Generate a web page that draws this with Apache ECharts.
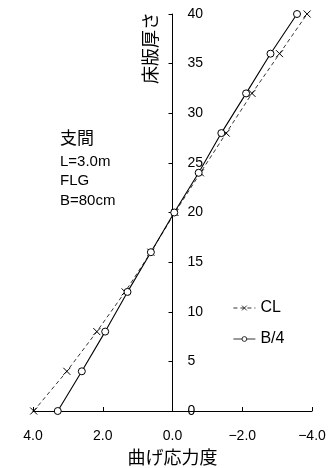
<!DOCTYPE html>
<html>
<head>
<meta charset="utf-8">
<script src="https://cdn.jsdelivr.net/npm/echarts@6/dist/echarts.min.js"></script>
<style>html,body{margin:0;padding:0;background:#fff;}#c{width:336px;height:468px;}</style>
</head>
<body>
<div id="c"></div>
<script>
var depths = [0, 4, 8, 12, 16, 20, 24, 28, 32, 36, 40];
var stressCL = [3.98, 3.03, 2.17, 1.36, 0.62, -0.07, -0.80, -1.54, -2.28, -3.07, -3.86];
var stressB4 = [3.29, 2.60, 1.93, 1.29, 0.62, -0.05, -0.75, -1.40, -2.11, -2.81, -3.57];
var seriesNames = ['CL', 'B/4'];
var xTicks = [-4, -2, 0, 2, 4];
var yTicks = [0, 5, 10, 15, 20, 25, 30, 35, 40];
var noteLines = ['支間', 'L=3.0m', 'FLG', 'B=80cm'];
var xName = '曲げ応力度';
var yName = '床版厚さ';

var FONT = "'Liberation Sans', 'Noto Sans CJK JP', sans-serif";
var JFONT = "'Noto Sans CJK JP', 'Liberation Sans', sans-serif";

var GRID_LEFT = 33, GRID_RIGHT = 24;
var GRID_W = 336 - GRID_LEFT - GRID_RIGHT;

function pairs(xs) { return xs.map(function (v, i) { return [v, depths[i]]; }); }
function fmtX(v) { return (v < 0 ? '\u2212' : '') + Math.abs(v).toFixed(1); }

var chart = echarts.init(document.getElementById('c'), null, {renderer: 'canvas'});
chart.setOption({
  animation: false,
  backgroundColor: '#fff',
  grid: {left: GRID_LEFT, right: GRID_RIGHT, top: 14, bottom: 57, outerBoundsMode: 'none'},
  xAxis: {
    type: 'value', inverse: true,
    min: xTicks[0], max: xTicks[xTicks.length - 1], interval: xTicks[1] - xTicks[0],
    splitLine: {show: false},
    axisLine: {onZero: false, lineStyle: {color: '#000', width: 1}},
    axisTick: {inside: true, length: 4, lineStyle: {color: '#000'}},
    axisLabel: {color: '#000', fontSize: 14, fontFamily: FONT, margin: 18, formatter: fmtX},
    name: xName, nameLocation: 'middle', nameGap: 35,
    nameTextStyle: {color: '#000', fontSize: 18, fontFamily: JFONT}
  },
  yAxis: {
    type: 'value', position: 'left',
    offset: -(GRID_W * xTicks[xTicks.length - 1] / (xTicks[xTicks.length - 1] - xTicks[0])),
    min: yTicks[0], max: yTicks[yTicks.length - 1], interval: yTicks[1] - yTicks[0],
    splitLine: {show: false},
    axisLine: {onZero: false, lineStyle: {color: '#000', width: 1}},
    axisTick: {inside: false, length: 4, lineStyle: {color: '#000'}},
    axisLabel: {inside: true, color: '#000', fontSize: 14, fontFamily: FONT, margin: 15}
  },
  legend: {
    orient: 'vertical', left: 233, top: 300, padding: 0,
    itemWidth: 22, itemHeight: 6, itemGap: 15,
    lineStyle: {width: 0.8},
    itemStyle: {borderWidth: 0.8},
    textStyle: {color: '#000', fontSize: 16, fontFamily: FONT},
    data: seriesNames
  },
  graphic: [
    {type: 'text', x: 150, y: 48, rotation: Math.PI / 2,
     style: {text: yName, fill: '#000', font: '18px ' + JFONT, align: 'center', verticalAlign: 'middle'}},
    {type: 'text', left: 60, top: 129,
     style: {text: noteLines[0], fill: '#000', font: '17px ' + JFONT}},
    {type: 'text', left: 60, top: 152,
     style: {text: noteLines.slice(1).join('\n'), fill: '#000', font: '15px ' + FONT, lineHeight: 19.5}}
  ],
  series: [
    {
      name: seriesNames[0], type: 'line', data: pairs(stressCL),
      symbol: 'path://M0,0L8,8M8,0L0,8', symbolSize: 7,
      itemStyle: {color: '#000', borderColor: '#000', borderWidth: 1},
      lineStyle: {color: '#000', width: 0.8, type: [4, 3]}, z: 2
    },
    {
      name: seriesNames[1], type: 'line', data: pairs(stressB4),
      symbol: 'circle', symbolSize: 7,
      itemStyle: {color: '#fff', borderColor: '#000', borderWidth: 1},
      lineStyle: {color: '#000', width: 1.1}, z: 3
    }
  ]
});
</script>
</body>
</html>
